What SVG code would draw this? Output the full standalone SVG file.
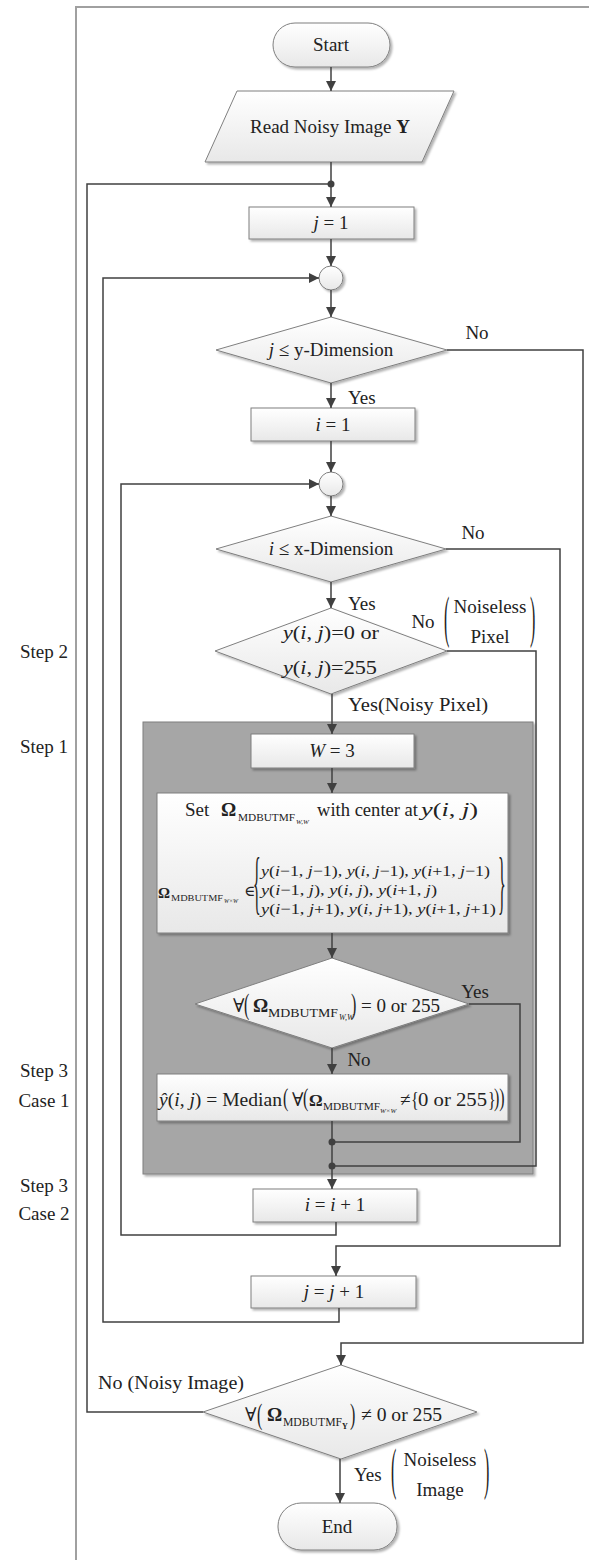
<svg xmlns="http://www.w3.org/2000/svg" width="599" height="1560" viewBox="0 0 599 1560" font-size="19">
<defs>
<linearGradient id="g" x1="0" y1="0" x2="0" y2="1"><stop offset="0" stop-color="#ffffff"/><stop offset="1" stop-color="#e8e8e8"/></linearGradient>
<filter id="sh" x="-10%" y="-10%" width="130%" height="150%"><feDropShadow dx="2" dy="2" stdDeviation="1.2" flood-color="#000" flood-opacity="0.3"/></filter>
<marker id="ar" viewBox="0 0 10 10" markerWidth="10" markerHeight="10" refX="10" refY="5" orient="auto" markerUnits="userSpaceOnUse"><path d="M0,0 L10,5 L0,10 z" fill="#404040"/></marker>
<style>
.n{fill:url(#g);stroke:#7f7f7f;stroke-width:1;filter:url(#sh)}
.c{fill:none;stroke:#404040;stroke-width:1.5}
.a{marker-end:url(#ar)}
.d{fill:#404040}
text{font-family:"Liberation Serif","Times New Roman","DejaVu Serif",serif;fill:#222}
.m{text-anchor:middle}
.i{font-style:italic}
.b{font-weight:bold}
</style>
</defs>
<g id="frame"><path d="M76,1560 V7 H589" fill="none" stroke="#a0a0a0" stroke-width="2"/></g>
<g id="steps">
<text x="44" y="658" class="m">Step 2</text>
<text x="44" y="753" class="m">Step 1</text>
<text x="44" y="1077" class="m">Step 3</text>
<text x="44" y="1107" class="m">Case 1</text>
<text x="44" y="1192" class="m">Step 3</text>
<text x="44" y="1220" class="m">Case 2</text>
</g>
<g id="step1-box"><rect x="143" y="722" width="390" height="452" fill="#a6a6a6" stroke="#7f7f7f" stroke-width="1" filter="url(#sh)"/></g>
<g id="start"><rect class="n" x="273" y="23" width="117" height="44" rx="22"/><text x="331" y="51" class="m">Start</text></g>
<g id="read"><polygon class="n" points="237,91 454,91 422,162 205,162"/><text x="330" y="133" class="m">Read Noisy Image <tspan class="b">Y</tspan></text></g>
<g id="j-init"><rect class="n" x="249" y="207" width="165" height="32"/><text x="331" y="229" class="m"><tspan class="i">j</tspan> = 1</text></g>
<g id="join-j"><circle class="n" cx="331" cy="278" r="12"/></g>
<g id="j-test"><polygon class="n" points="331,317 447,350 331,383 216,350"/><text x="331" y="356" class="m"><tspan class="i">j</tspan> ≤ y-Dimension</text></g>
<g id="i-init"><rect class="n" x="251" y="408" width="164" height="33"/><text x="333" y="431" class="m"><tspan class="i">i</tspan> = 1</text></g>
<g id="join-i"><circle class="n" cx="331" cy="484" r="12"/></g>
<g id="i-test"><polygon class="n" points="331,516 446,549 331,582 216,549"/><text x="331" y="555" class="m"><tspan class="i">i</tspan> ≤ x-Dimension</text></g>
<g id="pixel-test"><polygon class="n" points="331,608 447,651 331,694 215,651"/>
<text x="283" y="639" textLength="96" lengthAdjust="spacingAndGlyphs"><tspan class="i">y</tspan>(<tspan class="i">i</tspan>, <tspan class="i">j</tspan>)=0 or</text>
<text x="283" y="674" textLength="94" lengthAdjust="spacingAndGlyphs"><tspan class="i">y</tspan>(<tspan class="i">i</tspan>, <tspan class="i">j</tspan>)=255</text></g>
<g id="w-init"><rect class="n" x="251" y="734" width="163" height="34"/><text x="332" y="757" class="m"><tspan class="i">W</tspan> = 3</text></g>
<g id="set-window"><rect class="n" x="157" y="793" width="351" height="140"/>
<text x="185" y="816">Set</text>
<text x="221" y="816" class="b">Ω</text>
<text x="238" y="821" font-size="10" textLength="57" lengthAdjust="spacingAndGlyphs">MDBUTMF</text>
<text x="296" y="824" font-size="7" class="i">W,W</text>
<text x="317" y="816" textLength="101" lengthAdjust="spacingAndGlyphs">with center at</text>
<text x="421" y="816" textLength="57" lengthAdjust="spacingAndGlyphs"><tspan class="i">y</tspan>(<tspan class="i">i</tspan>, <tspan class="i">j</tspan>)</text>
<text x="158" y="898" font-size="15" class="b">Ω</text>
<text x="171" y="901" font-size="8" textLength="52" lengthAdjust="spacingAndGlyphs">MDBUTMF</text>
<text x="224" y="903" font-size="6" class="i">W×W</text>
<text x="244" y="896" font-size="15">∈</text>
<text font-size="16" transform="translate(253,906) scale(1,4.3)">{</text>
<text x="261" y="876" font-size="15" textLength="229" lengthAdjust="spacingAndGlyphs"><tspan class="i">y</tspan>(<tspan class="i">i</tspan>−1, <tspan class="i">j</tspan>−1), <tspan class="i">y</tspan>(<tspan class="i">i</tspan>, <tspan class="i">j</tspan>−1), <tspan class="i">y</tspan>(<tspan class="i">i</tspan>+1, <tspan class="i">j</tspan>−1)</text>
<text x="261" y="895" font-size="15" textLength="176" lengthAdjust="spacingAndGlyphs"><tspan class="i">y</tspan>(<tspan class="i">i</tspan>−1, <tspan class="i">j</tspan>), <tspan class="i">y</tspan>(<tspan class="i">i</tspan>, <tspan class="i">j</tspan>), <tspan class="i">y</tspan>(<tspan class="i">i</tspan>+1, <tspan class="i">j</tspan>)</text>
<text x="261" y="914" font-size="15" textLength="235" lengthAdjust="spacingAndGlyphs"><tspan class="i">y</tspan>(<tspan class="i">i</tspan>−1, <tspan class="i">j</tspan>+1), <tspan class="i">y</tspan>(<tspan class="i">i</tspan>, <tspan class="i">j</tspan>+1), <tspan class="i">y</tspan>(<tspan class="i">i</tspan>+1, <tspan class="i">j</tspan>+1)</text>
<text font-size="16" transform="translate(498,906) scale(1,4.3)">}</text>
</g>
<g id="all-noisy-test"><polygon class="n" points="332,958 469,1004 332,1048 195,1004"/>
<text x="233" y="1012">∀</text>
<text font-size="16" transform="translate(244,1014) scale(1,1.9)">(</text>
<text x="253" y="1012" class="b">Ω</text>
<text x="268" y="1017" font-size="12" textLength="70" lengthAdjust="spacingAndGlyphs">MDBUTMF</text>
<text x="339" y="1020" font-size="8" class="i">W,W</text>
<text font-size="16" transform="translate(351,1014) scale(1,1.9)">)</text>
<text x="361" y="1012" textLength="79" lengthAdjust="spacingAndGlyphs">= 0 or 255</text>
</g>
<g id="median"><rect class="n" x="157" y="1074" width="351" height="47"/>
<text x="159" y="1106" textLength="123" lengthAdjust="spacingAndGlyphs"><tspan class="i">ŷ</tspan>(<tspan class="i">i</tspan>, <tspan class="i">j</tspan>) = Median</text>
<text font-size="16" transform="translate(283,1106) scale(1,1.6)">(</text>
<text x="292" y="1106">∀</text>
<text font-size="16" transform="translate(303,1106) scale(1,1.6)">(</text>
<text x="309" y="1106" font-size="17" class="b">Ω</text>
<text x="323" y="1110" font-size="11" textLength="57" lengthAdjust="spacingAndGlyphs">MDBUTMF</text>
<text x="380" y="1113" font-size="7" class="i">W×W</text>
<text x="400" y="1106">≠</text>
<text font-size="16" transform="translate(411,1106) scale(1,1.3)">{</text>
<text x="418" y="1106" font-size="18" textLength="69" lengthAdjust="spacingAndGlyphs">0 or 255</text>
<text font-size="16" transform="translate(488,1106) scale(1,1.3)">}</text>
<text font-size="16" transform="translate(494,1106) scale(1,1.6)">))</text>
</g>
<g id="i-inc"><rect class="n" x="253" y="1189" width="164" height="33"/><text x="335" y="1211" class="m"><tspan class="i">i</tspan> = <tspan class="i">i</tspan> + 1</text></g>
<g id="j-inc"><rect class="n" x="251" y="1276" width="165" height="32"/><text x="334" y="1298" class="m"><tspan class="i">j</tspan> = <tspan class="i">j</tspan> + 1</text></g>
<g id="image-test"><polygon class="n" points="341,1365 477,1412 341,1459 203,1412"/>
<text x="245" y="1421">∀</text>
<text font-size="16" transform="translate(257,1424) scale(1,1.9)">(</text>
<text x="267" y="1421" class="b">Ω</text>
<text x="283" y="1426" font-size="12" textLength="59" lengthAdjust="spacingAndGlyphs">MDBUTMF</text>
<text x="342" y="1429" font-size="8" class="b">Y</text>
<text font-size="16" transform="translate(350,1424) scale(1,1.9)">)</text>
<text x="361" y="1421" textLength="81" lengthAdjust="spacingAndGlyphs">≠ 0 or 255</text>
</g>
<g id="end"><rect class="n" x="278" y="1503" width="119" height="47" rx="23"/><text x="337" y="1533" class="m">End</text></g>
<g id="connectors">
<path class="c a" d="M331,67 V91"/>
<path class="c a" d="M331,162 V207"/>
<path class="c" d="M203,1412 H87 V184 H331"/>
<path class="c a" d="M331,239 V266"/>
<path class="c a" d="M331,290 V317"/>
<path class="c a" d="M339,1308 V1322 H103 V278 H319"/>
<path class="c a" d="M331,383 V408"/>
<path class="c a" d="M331,441 V472"/>
<path class="c a" d="M331,496 V516"/>
<path class="c a" d="M336,1222 V1235 H121 V484 H319"/>
<path class="c a" d="M331,582 V608"/>
<path class="c a" d="M332,694 V734"/>
<path class="c a" d="M332,768 V793"/>
<path class="c a" d="M332,933 V958"/>
<path class="c a" d="M332,1048 V1074"/>
<path class="c a" d="M332,1121 V1189"/>
<path class="c" d="M469,1004 H520 V1142 H332"/>
<path class="c" d="M447,651 H536 V1166 H332"/>
<path class="c a" d="M446,549 H560 V1246 H336 V1276"/>
<path class="c a" d="M447,350 H583 V1343 H341 V1365"/>
<path class="c a" d="M340,1459 V1503"/>
<circle class="d" cx="331" cy="184" r="3.5"/>
<circle class="d" cx="332" cy="1142" r="3.5"/>
<circle class="d" cx="332" cy="1166" r="3.5"/>
</g>
<g id="labels">
<text x="477" y="339" class="m">No</text>
<text x="348" y="404">Yes</text>
<text x="473" y="539" class="m">No</text>
<text x="348" y="610">Yes</text>
<text x="423" y="628" class="m">No</text>
<text font-size="16" transform="translate(444,636) scale(1,3.5)">(</text>
<text x="490" y="613" class="m">Noiseless</text>
<text x="490" y="643" class="m">Pixel</text>
<text font-size="16" transform="translate(530,636) scale(1,3.5)">)</text>
<text x="348" y="711" textLength="140" lengthAdjust="spacingAndGlyphs">Yes(Noisy Pixel)</text>
<text x="475" y="998" class="m">Yes</text>
<text x="359" y="1066" class="m">No</text>
<text x="98" y="1389" textLength="146" lengthAdjust="spacingAndGlyphs">No (Noisy Image)</text>
<text x="354" y="1481">Yes</text>
<text font-size="16" transform="translate(391,1488) scale(1,3.5)">(</text>
<text x="440" y="1466" class="m">Noiseless</text>
<text x="440" y="1496" class="m">Image</text>
<text font-size="16" transform="translate(484,1488) scale(1,3.5)">)</text>
</g>
</svg>
